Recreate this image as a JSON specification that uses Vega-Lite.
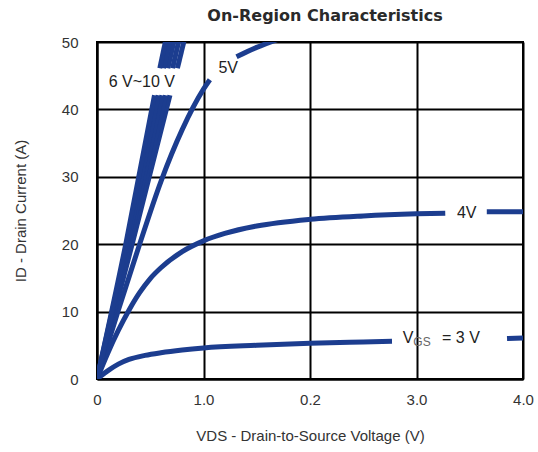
{
  "$schema": "https://vega.github.io/schema/vega-lite/v6.json",
  "width": 426,
  "height": 337,
  "autosize": {"type": "none"},
  "padding": {"left": 97, "top": 42, "right": 15, "bottom": 73},
  "background": "white",
  "title": {"text": "On-Region Characteristics", "fontSize": 16, "fontWeight": "bold", "color": "#2a2a2a", "font": "DejaVu Sans", "offset": 11, "dx": 15},
  "config": {
    "view": {"stroke": "black", "strokeWidth": 2},
    "font": "Liberation Sans",
    "axis": {
      "grid": true, "gridColor": "black", "gridWidth": 2, "gridOpacity": 1,
      "domainColor": "black", "domainWidth": 2, "ticks": false,
      "labelFontSize": 15, "labelColor": "#333333", "labelFont": "Liberation Sans",
      "titleFontSize": 15, "titleFontWeight": "normal", "titleColor": "#333333", "titleFont": "Liberation Sans"
    }
  },
  "datasets": {
    "curves": [
      {"seg": "3V-a", "x": 0, "y": 0}, {"seg": "3V-a", "x": 0.1, "y": 1.2}, {"seg": "3V-a", "x": 0.2, "y": 2.2}, {"seg": "3V-a", "x": 0.3, "y": 2.9}, {"seg": "3V-a", "x": 0.45, "y": 3.5}, {"seg": "3V-a", "x": 0.6, "y": 3.9}, {"seg": "3V-a", "x": 0.8, "y": 4.3}, {"seg": "3V-a", "x": 1.0, "y": 4.6}, {"seg": "3V-a", "x": 1.5, "y": 5.0}, {"seg": "3V-a", "x": 2.0, "y": 5.3}, {"seg": "3V-a", "x": 2.5, "y": 5.5}, {"seg": "3V-a", "x": 2.77, "y": 5.6},
      {"seg": "3V-b", "x": 3.85, "y": 6.0}, {"seg": "3V-b", "x": 4.0, "y": 6.1},
      {"seg": "4V-a", "x": 0, "y": 0}, {"seg": "4V-a", "x": 0.1, "y": 3.8}, {"seg": "4V-a", "x": 0.2, "y": 7.2}, {"seg": "4V-a", "x": 0.3, "y": 10.2}, {"seg": "4V-a", "x": 0.4, "y": 12.8}, {"seg": "4V-a", "x": 0.5, "y": 14.9}, {"seg": "4V-a", "x": 0.6, "y": 16.5}, {"seg": "4V-a", "x": 0.8, "y": 18.9}, {"seg": "4V-a", "x": 1.0, "y": 20.5}, {"seg": "4V-a", "x": 1.2, "y": 21.6}, {"seg": "4V-a", "x": 1.5, "y": 22.7}, {"seg": "4V-a", "x": 2.0, "y": 23.7}, {"seg": "4V-a", "x": 2.5, "y": 24.2}, {"seg": "4V-a", "x": 3.0, "y": 24.5}, {"seg": "4V-a", "x": 3.27, "y": 24.6},
      {"seg": "4V-b", "x": 3.66, "y": 24.8}, {"seg": "4V-b", "x": 4.0, "y": 24.8},
      {"seg": "5V-a", "x": 0, "y": 0}, {"seg": "5V-a", "x": 0.2, "y": 10.2}, {"seg": "5V-a", "x": 0.4, "y": 20.0}, {"seg": "5V-a", "x": 0.6, "y": 29.3}, {"seg": "5V-a", "x": 0.8, "y": 37.0}, {"seg": "5V-a", "x": 1.0, "y": 43.0}, {"seg": "5V-a", "x": 1.06, "y": 44.4},
      {"seg": "5V-b", "x": 1.31, "y": 47.8}, {"seg": "5V-b", "x": 1.5, "y": 49.2}, {"seg": "5V-b", "x": 1.7, "y": 50.4},
      {"seg": "6V-a", "x": 0, "y": 0}, {"seg": "6V-a", "x": 0.33, "y": 20}, {"seg": "6V-a", "x": 0.685, "y": 42.1},
      {"seg": "6V-b", "x": 0.755, "y": 46.1}, {"seg": "6V-b", "x": 0.83, "y": 51},
      {"seg": "7V-a", "x": 0, "y": 0}, {"seg": "7V-a", "x": 0.315, "y": 20}, {"seg": "7V-a", "x": 0.645, "y": 42.1},
      {"seg": "7V-b", "x": 0.71, "y": 46.1}, {"seg": "7V-b", "x": 0.78, "y": 51},
      {"seg": "8V-a", "x": 0, "y": 0}, {"seg": "8V-a", "x": 0.30, "y": 20}, {"seg": "8V-a", "x": 0.61, "y": 42.1},
      {"seg": "8V-b", "x": 0.665, "y": 46.1}, {"seg": "8V-b", "x": 0.735, "y": 51},
      {"seg": "9V-a", "x": 0, "y": 0}, {"seg": "9V-a", "x": 0.285, "y": 20}, {"seg": "9V-a", "x": 0.575, "y": 42.1},
      {"seg": "9V-b", "x": 0.625, "y": 46.1}, {"seg": "9V-b", "x": 0.695, "y": 51},
      {"seg": "10V-a", "x": 0, "y": 0}, {"seg": "10V-a", "x": 0.27, "y": 20}, {"seg": "10V-a", "x": 0.54, "y": 42.1},
      {"seg": "10V-b", "x": 0.59, "y": 46.1}, {"seg": "10V-b", "x": 0.655, "y": 51}
    ],
    "labels": [
      {"text": "6 V~10 V", "x": 0.11, "y": 44.0},
      {"text": "5V", "x": 1.14, "y": 46.1},
      {"text": "4V", "x": 3.38, "y": 24.7},
      {"text": "V", "x": 2.87, "y": 6.1},
      {"text": "= 3 V", "x": 3.24, "y": 6.1}
    ],
    "subs": [
      {"text": "GS", "x": 2.97, "y": 6.1}
    ]
  },
  "layer": [
    {
      "data": {"name": "curves"},
      "mark": {"type": "line", "color": "#1c3d8f", "strokeWidth": 5, "strokeCap": "butt", "interpolate": "monotone", "clip": true},
      "encoding": {
        "x": {"field": "x", "type": "quantitative", "scale": {"domain": [0, 4], "nice": false},
          "axis": {"values": [0, 1, 2, 3, 4], "labelExpr": "datum.value == 0 ? '0' : (datum.value == 2 ? '0.2' : format(datum.value, '.1f'))", "labelPadding": 13, "titlePadding": 21, "labelFlush": false},
          "title": "VDS - Drain-to-Source Voltage (V)"},
        "y": {"field": "y", "type": "quantitative", "scale": {"domain": [0, 50], "nice": false},
          "axis": {"values": [0, 10, 20, 30, 40, 50], "labelPadding": 19, "titlePadding": 33},
          "title": "ID - Drain Current (A)"},
        "detail": {"field": "seg"}
      }
    },
    {
      "data": {"name": "labels"},
      "mark": {"type": "text", "align": "left", "baseline": "middle", "fontSize": 16, "color": "#222222", "font": "Liberation Sans"},
      "encoding": {
        "x": {"field": "x", "type": "quantitative"},
        "y": {"field": "y", "type": "quantitative"},
        "text": {"field": "text"}
      }
    },
    {
      "data": {"name": "subs"},
      "mark": {"type": "text", "align": "left", "baseline": "middle", "fontSize": 12, "dy": 4, "color": "#666666", "font": "Liberation Sans"},
      "encoding": {
        "x": {"field": "x", "type": "quantitative"},
        "y": {"field": "y", "type": "quantitative"},
        "text": {"field": "text"}
      }
    }
  ]
}
